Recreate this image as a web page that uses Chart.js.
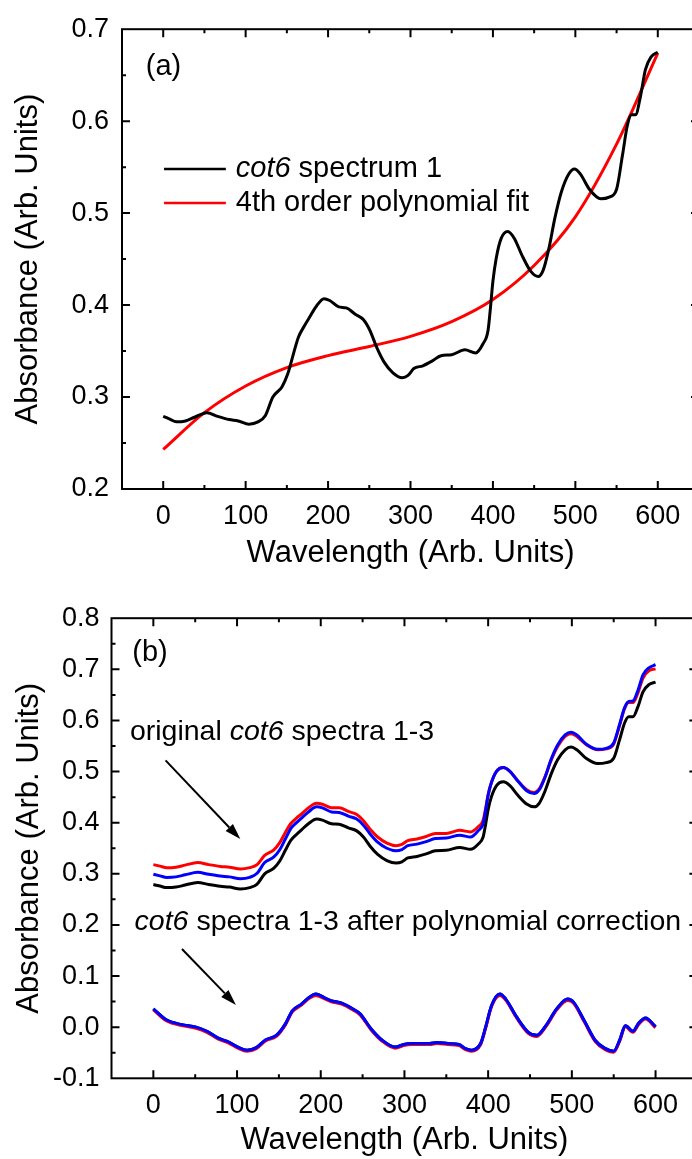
<!DOCTYPE html>
<html>
<head>
<meta charset="utf-8">
<script src="https://cdn.jsdelivr.net/npm/chart.js@4.4.1/dist/chart.umd.min.js"></script>
<style>
  html, body { margin: 0; padding: 0; background: #fff; overflow: hidden; }
  #wrap { position: relative; width: 710px; height: 1165px; }
  canvas { position: absolute; left: 0; }
</style>
</head>
<body>
<div id="wrap">
  <canvas id="chartA" width="710" height="590" style="top:0"></canvas>
  <canvas id="chartB" width="710" height="575" style="top:590px"></canvas>
</div>
<script>
const FONT = "'Liberation Sans', Arial, sans-serif";

// wavelength grid of the original spectra (panels a and b)
const waveOrig = [0, 8, 16, 27, 38, 53, 66, 80, 91, 104, 115, 124, 133, 144, 151, 158, 164, 171, 177, 186,
  195, 202, 213, 222, 233, 243, 251, 259, 268, 279, 290, 297, 304, 315, 326, 337, 350, 366, 379, 388,
  394, 397, 400, 404, 410, 418, 426, 435, 446, 455, 461, 468, 475, 483, 492, 499, 506, 517, 531, 541,
  550, 557, 563, 568, 573, 579, 585, 592, 600];

// cot6 spectrum 1 (black)
const spectrum1 = [0.279, 0.276, 0.273, 0.274, 0.278, 0.283, 0.279, 0.2755, 0.274, 0.2705, 0.273, 0.280, 0.300, 0.311, 0.325, 0.347, 0.365, 0.377, 0.386, 0.399,
  0.407, 0.405, 0.398, 0.397, 0.390, 0.384, 0.372, 0.354, 0.338, 0.326, 0.321, 0.3235, 0.331, 0.334, 0.339, 0.345, 0.346, 0.3515, 0.348, 0.358,
  0.372, 0.397, 0.426, 0.451, 0.4725, 0.480, 0.4725, 0.4546, 0.4366, 0.431, 0.438, 0.462, 0.494, 0.523, 0.5426, 0.548, 0.5426, 0.526, 0.5156, 0.5174,
  0.526, 0.562, 0.595, 0.607, 0.607, 0.627, 0.656, 0.670, 0.675];

// cot6 spectrum 2 (blue)
const spectrum2 = [0.299, 0.296, 0.293, 0.294, 0.298, 0.303, 0.299, 0.2955, 0.294, 0.2905, 0.293, 0.301, 0.322, 0.333, 0.347, 0.369, 0.388, 0.400, 0.409, 0.422,
  0.431, 0.429, 0.421, 0.420, 0.413, 0.407, 0.395, 0.378, 0.362, 0.350, 0.345, 0.3475, 0.355, 0.358, 0.363, 0.369, 0.370, 0.3755, 0.372, 0.384,
  0.398, 0.424, 0.454, 0.479, 0.5005, 0.508, 0.5005, 0.4826, 0.4626, 0.457, 0.464, 0.489, 0.523, 0.552, 0.5716, 0.577, 0.5716, 0.554, 0.5436, 0.5454,
  0.556, 0.592, 0.625, 0.637, 0.638, 0.659, 0.689, 0.703, 0.709];

// cot6 spectrum 3 (red)
const spectrum3 = [0.318, 0.315, 0.312, 0.313, 0.317, 0.322, 0.318, 0.3145, 0.313, 0.3095, 0.312, 0.318, 0.336, 0.347, 0.361, 0.382, 0.398, 0.409, 0.417, 0.430,
  0.438, 0.436, 0.429, 0.429, 0.422, 0.416, 0.404, 0.387, 0.372, 0.360, 0.355, 0.3575, 0.365, 0.368, 0.373, 0.379, 0.379, 0.385, 0.382, 0.392,
  0.405, 0.428, 0.455, 0.479, 0.5005, 0.508, 0.5005, 0.4826, 0.4646, 0.459, 0.466, 0.490, 0.521, 0.549, 0.5686, 0.574, 0.5686, 0.553, 0.5426, 0.5444,
  0.554, 0.590, 0.623, 0.635, 0.635, 0.654, 0.683, 0.697, 0.701];

// 4th order polynomial fit of spectrum 1 (red, panel a)
const waveFit = [0, 50, 100, 150, 200, 250, 300, 350, 400, 450, 500, 550, 600];
const fitValues = [0.243, 0.283, 0.312, 0.332, 0.345, 0.355, 0.366, 0.382, 0.406, 0.443, 0.496, 0.575, 0.674];

// spectra after polynomial correction (panel b)
const waveCorr = [0, 16, 34, 51, 64, 77, 90, 101, 112, 123, 134, 147, 158, 166, 177, 186, 194, 204, 212, 225,
  238, 247, 260, 273, 289, 299, 308, 330, 339, 352, 365, 373, 380, 391, 397, 404, 414, 421, 434, 448,
  458, 469, 482, 495, 502, 515, 528, 539, 550, 557, 564, 573, 580, 588, 600];
// spectrum 1 corrected lies right under spectrum 2 corrected
const corr1 = [0.036, 0.014, 0.005, 0.000, -0.008, -0.021, -0.029, -0.039, -0.045, -0.040, -0.025, -0.016, 0.007, 0.032, 0.045, 0.058, 0.065, 0.058, 0.052, 0.047,
  0.036, 0.026, -0.003, -0.025, -0.039, -0.034, -0.032, -0.032, -0.030, -0.032, -0.034, -0.042, -0.045, -0.032, 0.000, 0.042, 0.065, 0.055, 0.020, -0.010,
  -0.016, 0.003, 0.036, 0.055, 0.049, 0.012, -0.026, -0.041, -0.047, -0.026, 0.003, -0.008, 0.008, 0.018, 0.001];
const corr2 = [0.036, 0.014, 0.005, 0.000, -0.008, -0.021, -0.029, -0.039, -0.045, -0.040, -0.025, -0.016, 0.007, 0.032, 0.045, 0.058, 0.065, 0.058, 0.052, 0.047,
  0.036, 0.026, -0.003, -0.025, -0.039, -0.034, -0.032, -0.032, -0.030, -0.032, -0.034, -0.042, -0.045, -0.032, 0.000, 0.042, 0.065, 0.055, 0.020, -0.010,
  -0.016, 0.003, 0.036, 0.055, 0.049, 0.012, -0.026, -0.041, -0.047, -0.026, 0.003, -0.008, 0.008, 0.018, 0.001];
const corr3 = [0.034, 0.012, 0.003, -0.002, -0.010, -0.023, -0.031, -0.041, -0.047, -0.042, -0.027, -0.018, 0.005, 0.030, 0.043, 0.056, 0.062, 0.056, 0.050, 0.045,
  0.034, 0.024, -0.005, -0.027, -0.041, -0.036, -0.034, -0.034, -0.032, -0.034, -0.036, -0.044, -0.047, -0.034, -0.002, 0.040, 0.062, 0.053, 0.018, -0.012,
  -0.018, 0.001, 0.034, 0.052, 0.047, 0.010, -0.028, -0.043, -0.049, -0.028, 0.001, -0.010, 0.006, 0.016, -0.001];

// axis ranges
const xRange = [-50, 650];
const yRangeA = [0.2, 0.7];
const yRangeB = [-0.1, 0.8];

const BLACK = '#000000';
const RED = '#ff0000';
const BLUE = '#0000ff';

const toPoints = (xs, ys) => xs.map((x, i) => ({ x, y: ys[i] }));

// Chart.js paints dataset 0 last, so list them top-most first
function line(xs, ys, color) {
  return {
    data: toPoints(xs, ys),
    borderColor: color,
    borderWidth: 3,
    pointRadius: 0,
    cubicInterpolationMode: 'monotone',
    fill: false,
  };
}

// closed frame with inward ticks on all four sides
const framePlugin = {
  id: 'frame',
  afterDatasetsDraw(chart) {
    const { ctx, chartArea: a, scales: { x, y } } = chart;
    ctx.save();
    ctx.strokeStyle = '#000';
    ctx.lineWidth = 2;
    ctx.strokeRect(a.left, a.top, a.right - a.left, a.bottom - a.top);
    ctx.beginPath();
    x.ticks.forEach(t => {
      const px = x.getPixelForValue(t.value);
      if (px < a.left + 1 || px > a.right - 1) return;
      const len = t.value % 100 === 0 ? 8 : 4;
      ctx.moveTo(px, a.bottom); ctx.lineTo(px, a.bottom - len);
      ctx.moveTo(px, a.top);    ctx.lineTo(px, a.top + len);
    });
    y.ticks.forEach(t => {
      const py = y.getPixelForValue(t.value);
      if (py < a.top + 1 || py > a.bottom - 1) return;
      const len = Math.round(t.value * 100) % 10 === 0 ? 8 : 4;
      ctx.moveTo(a.left, py);  ctx.lineTo(a.left + len, py);
      ctx.moveTo(a.right, py); ctx.lineTo(a.right - len, py);
    });
    ctx.stroke();
    ctx.restore();
  }
};

// text made of plain and italic runs, left aligned
function drawRuns(ctx, runs, x, y, size) {
  runs.forEach(([txt, italic]) => {
    ctx.font = (italic ? 'italic ' : '') + size + 'px ' + FONT;
    ctx.fillText(txt, x, y);
    x += ctx.measureText(txt).width;
  });
}

function drawArrow(ctx, x1, y1, x2, y2) {
  const ang = Math.atan2(y2 - y1, x2 - x1);
  const head = 16, half = 5;
  const bx = x2 - head * Math.cos(ang), by = y2 - head * Math.sin(ang);
  ctx.beginPath();
  ctx.moveTo(x1, y1);
  ctx.lineTo(bx, by);
  ctx.stroke();
  ctx.beginPath();
  ctx.moveTo(x2, y2);
  ctx.lineTo(bx + half * Math.sin(ang), by - half * Math.cos(ang));
  ctx.lineTo(bx - half * Math.sin(ang), by + half * Math.cos(ang));
  ctx.closePath();
  ctx.fill();
}

const notesA = {
  id: 'notesA',
  afterDraw(chart) {
    const { ctx, scales: { x, y } } = chart;
    ctx.save();
    ctx.fillStyle = '#000';
    ctx.textBaseline = 'middle';
    ctx.textAlign = 'center';
    ctx.font = '29px ' + FONT;
    ctx.fillText('(a)', x.getPixelForValue(0.4), y.getPixelForValue(0.659));

    // legend
    ctx.textAlign = 'left';
    const rows = [
      { v: 0.548, color: BLACK, runs: [['cot6', true], [' spectrum 1', false]] },
      { v: 0.511, color: RED,   runs: [['4th order polynomial fit', false]] },
    ];
    rows.forEach(r => {
      const py = y.getPixelForValue(r.v);
      ctx.strokeStyle = r.color;
      ctx.lineWidth = 2.6;
      ctx.beginPath();
      ctx.moveTo(x.getPixelForValue(1), py);
      ctx.lineTo(x.getPixelForValue(76), py);
      ctx.stroke();
      drawRuns(ctx, r.runs, x.getPixelForValue(88), py, 29);
    });
    ctx.restore();
  }
};

const notesB = {
  id: 'notesB',
  afterDraw(chart) {
    const { ctx, scales: { x, y } } = chart;
    ctx.save();
    ctx.fillStyle = '#000';
    ctx.strokeStyle = '#000';
    ctx.lineWidth = 2;
    ctx.textBaseline = 'middle';
    ctx.textAlign = 'center';
    ctx.font = '29px ' + FONT;
    ctx.fillText('(b)', x.getPixelForValue(-4), y.getPixelForValue(0.731));

    ctx.textAlign = 'left';
    drawRuns(ctx, [['original ', false], ['cot6', true], [' spectra 1-3', false]],
      x.getPixelForValue(-28), y.getPixelForValue(0.578), 28.5);
    drawRuns(ctx, [['cot6', true], [' spectra 1-3 after polynomial correction', false]],
      x.getPixelForValue(-22.4), y.getPixelForValue(0.205), 28.5);

    drawArrow(ctx, x.getPixelForValue(14.6), y.getPixelForValue(0.522),
                   x.getPixelForValue(103.9), y.getPixelForValue(0.368));
    drawArrow(ctx, x.getPixelForValue(34.2), y.getPixelForValue(0.153),
                   x.getPixelForValue(98.7), y.getPixelForValue(0.0435));
    ctx.restore();
  }
};

function makeOptions(p) {
  return {
    responsive: false,
    animation: false,
    layout: { padding: { left: 0, top: p.top, right: p.right, bottom: 0 } },
    plugins: { legend: { display: false }, tooltip: { enabled: false } },
    scales: {
      x: {
        type: 'linear',
        min: xRange[0],
        max: xRange[1],
        afterFit: s => { s.height = p.xHeight; },
        grid: { display: false, drawTicks: false },
        border: { display: false },
        ticks: {
          stepSize: 50,
          autoSkip: false,
          maxRotation: 0,
          padding: p.xTickPad,
          color: '#000',
          font: { family: FONT, size: 27 },
          callback: v => (v % 100 === 0 ? String(v) : ''),
        },
        title: {
          display: true,
          text: 'Wavelength (Arb. Units)',
          color: '#000',
          font: { family: FONT, size: 31 },
          padding: { top: 0, bottom: p.xTitlePad },
        },
      },
      y: {
        min: p.yRange[0],
        max: p.yRange[1],
        afterFit: s => { s.width = p.yWidth; },
        grid: { display: false, drawTicks: false },
        border: { display: false },
        ticks: {
          stepSize: 0.05,
          autoSkip: false,
          padding: p.yTickPad,
          color: '#000',
          font: { family: FONT, size: 27 },
          callback: v => {
            const r = Math.round(v * 100);
            return r % 10 === 0 ? (r / 100).toFixed(1) : '';
          },
        },
        title: {
          display: true,
          text: 'Absorbance (Arb. Units)',
          color: '#000',
          font: { family: FONT, size: 31 },
          padding: { top: p.yTitlePad, bottom: 0 },
        },
      },
    },
  };
}

new Chart(document.getElementById('chartA'), {
  type: 'line',
  data: {
    datasets: [
      line(waveOrig, spectrum1, BLACK),
      line(waveFit, fitValues, RED),
    ],
  },
  options: makeOptions({
    top: 25, right: 11, xHeight: 101, yWidth: 122, yRange: yRangeA,
    xTickPad: 11, xTitlePad: 18, yTickPad: 13, yTitlePad: 10,
  }),
  plugins: [framePlugin, notesA],
});

new Chart(document.getElementById('chartB'), {
  type: 'line',
  data: {
    datasets: [
      line(waveCorr, corr2, BLUE),
      line(waveCorr, corr3, RED),
      line(waveCorr, corr1, BLACK),
      line(waveOrig, spectrum2, BLUE),
      line(waveOrig, spectrum3, RED),
      line(waveOrig, spectrum1, BLACK),
    ],
  },
  options: makeOptions({
    top: 25.7, right: 12.6, xHeight: 86.7, yWidth: 111.5, yRange: yRangeB,
    xTickPad: 11, xTitlePad: 6, yTickPad: 12, yTitlePad: 11,
  }),
  plugins: [framePlugin, notesB],
});
</script>
</body>
</html>
